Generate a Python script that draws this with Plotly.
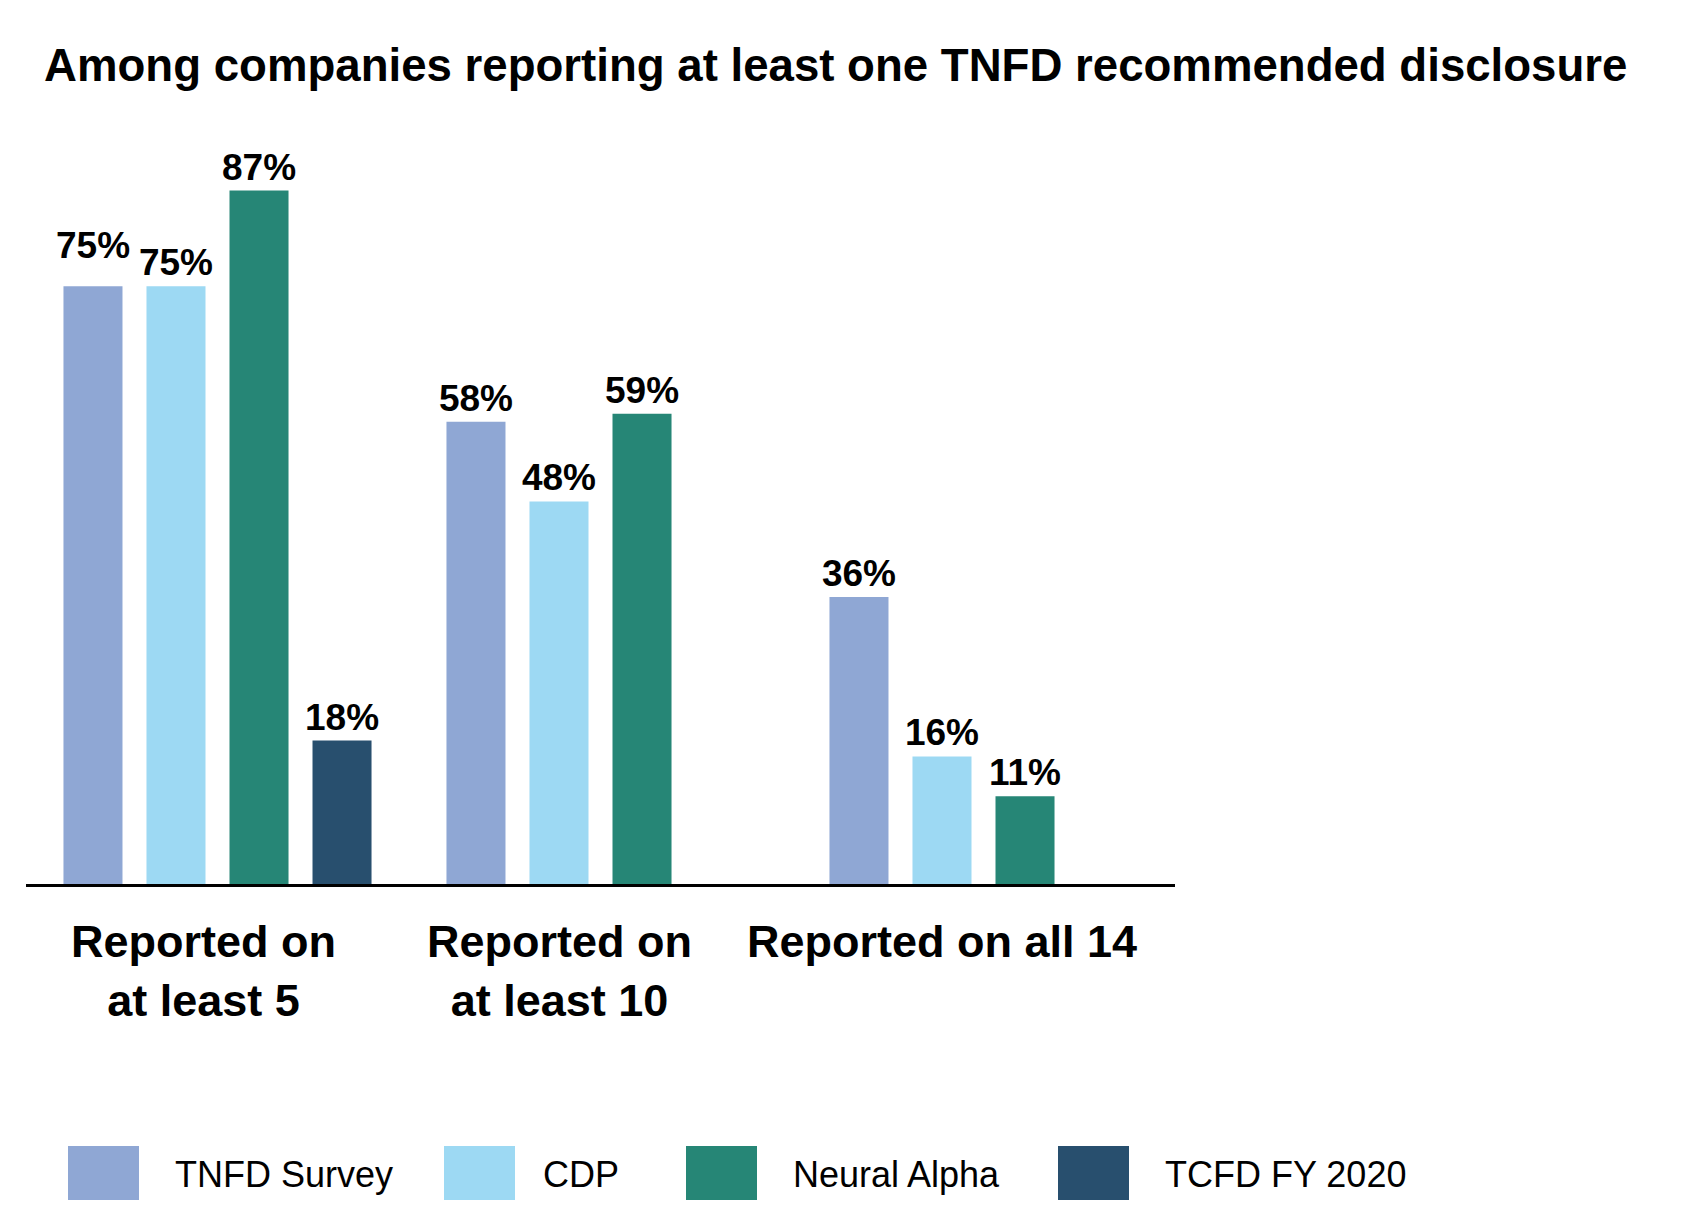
import plotly.graph_objects as go

# data
categories = ["Reported on<br>at least 5", "Reported on<br>at least 10", "Reported on all 14"]
series_names = ["TNFD Survey", "CDP", "Neural Alpha", "TCFD FY 2020"]
tnfd_survey = [75, 58, 36]
cdp = [75, 48, 16]
neural_alpha = [87, 59, 11]
tcfd_fy2020 = [18, None, None]
title_text = "Among companies reporting at least one TNFD recommended disclosure"

colors = ["#8fa7d4", "#9dd9f3", "#268676", "#284f6e"]

W, H = 1695, 1214
PLOT_L, PLOT_R, PLOT_T, PLOT_B = 18, 1167, 79, 876
BARGAP, GROUPGAP = 0.133, 0.289
LABEL_FONT = dict(family="Liberation Sans", size=37, color="black", weight="bold")


def px_x(px):
    return (px - PLOT_L) / (PLOT_R - PLOT_L)


def px_y(py):
    return (PLOT_B - py) / (PLOT_B - PLOT_T)


# the first TNFD label is lifted in the original so it clears its neighbour
lifted = {(0, 0): 18}
slot_px = (PLOT_R - PLOT_L) / len(categories) * (1 - BARGAP) / len(series_names)

all_series = [tnfd_survey, cdp, neural_alpha, tcfd_fy2020]
fig = go.Figure()
for i, (name, vals, col) in enumerate(zip(series_names, all_series, colors)):
    texts = []
    for j, v in enumerate(vals):
        if v is None or (i, j) in lifted:
            texts.append("")
        else:
            texts.append("%d%%" % v)
    fig.add_trace(go.Bar(
        x=categories, y=vals, name=name,
        marker=dict(color=col, line=dict(width=0)),
        text=texts, textposition="outside", constraintext="none",
        textfont=LABEL_FONT, cliponaxis=False, showlegend=False,
    ))

for (i, j), lift in lifted.items():
    v = all_series[i][j]
    fig.add_annotation(
        x=categories[j], y=v, xref="x", yref="y", yanchor="bottom",
        xshift=(i - (len(series_names) - 1) / 2) * slot_px, yshift=lift,
        text="%d%%" % v, showarrow=False, font=LABEL_FONT,
    )

# category labels (sit a bit left of the group centres, as in the original)
label_shift = [-14, -41, -42]
for cat, dx in zip(categories, label_shift):
    fig.add_annotation(
        x=cat, xref="x", y=0, yref="paper", yanchor="top", yshift=-30, xshift=dx,
        text="<b>%s</b>" % cat, showarrow=False, align="center",
        font=dict(family="Liberation Sans", size=45, color="black"),
    )

# legend drawn by hand so the swatches can be large
legend_box_x = [60, 436, 678, 1050]
legend_text_x = [165, 533, 783, 1155]
for name, col, bx, tx in zip(series_names, colors, legend_box_x, legend_text_x):
    fig.add_shape(type="rect", xref="paper", yref="paper",
                  x0=px_x(bx), x1=px_x(bx + 71), y0=px_y(1192), y1=px_y(1138),
                  fillcolor=col, line=dict(width=0))
    fig.add_annotation(x=px_x(tx), y=px_y(1166), xref="paper", yref="paper",
                       xanchor="left", yanchor="middle", text=name, showarrow=False,
                       font=dict(family="Liberation Sans", size=36, color="black"))

fig.update_layout(
    width=W, height=H,
    margin=dict(l=PLOT_L, r=W - PLOT_R, t=PLOT_T, b=H - PLOT_B),
    paper_bgcolor="white", plot_bgcolor="white",
    barmode="group", bargap=BARGAP, bargroupgap=GROUPGAP,
    title=dict(text="<b>%s</b>" % title_text, xref="container", yref="container",
               x=36 / W, xanchor="left", y=1 - 57 / H, yanchor="middle",
               font=dict(family="Liberation Sans", size=45.6, color="black")),
    xaxis=dict(showticklabels=False, showline=True, linecolor="black", linewidth=2.5,
               ticks="", showgrid=False, zeroline=False),
    yaxis=dict(range=[0, 100], visible=False, showgrid=False, zeroline=False),
)

fig.write_html("out.html")
